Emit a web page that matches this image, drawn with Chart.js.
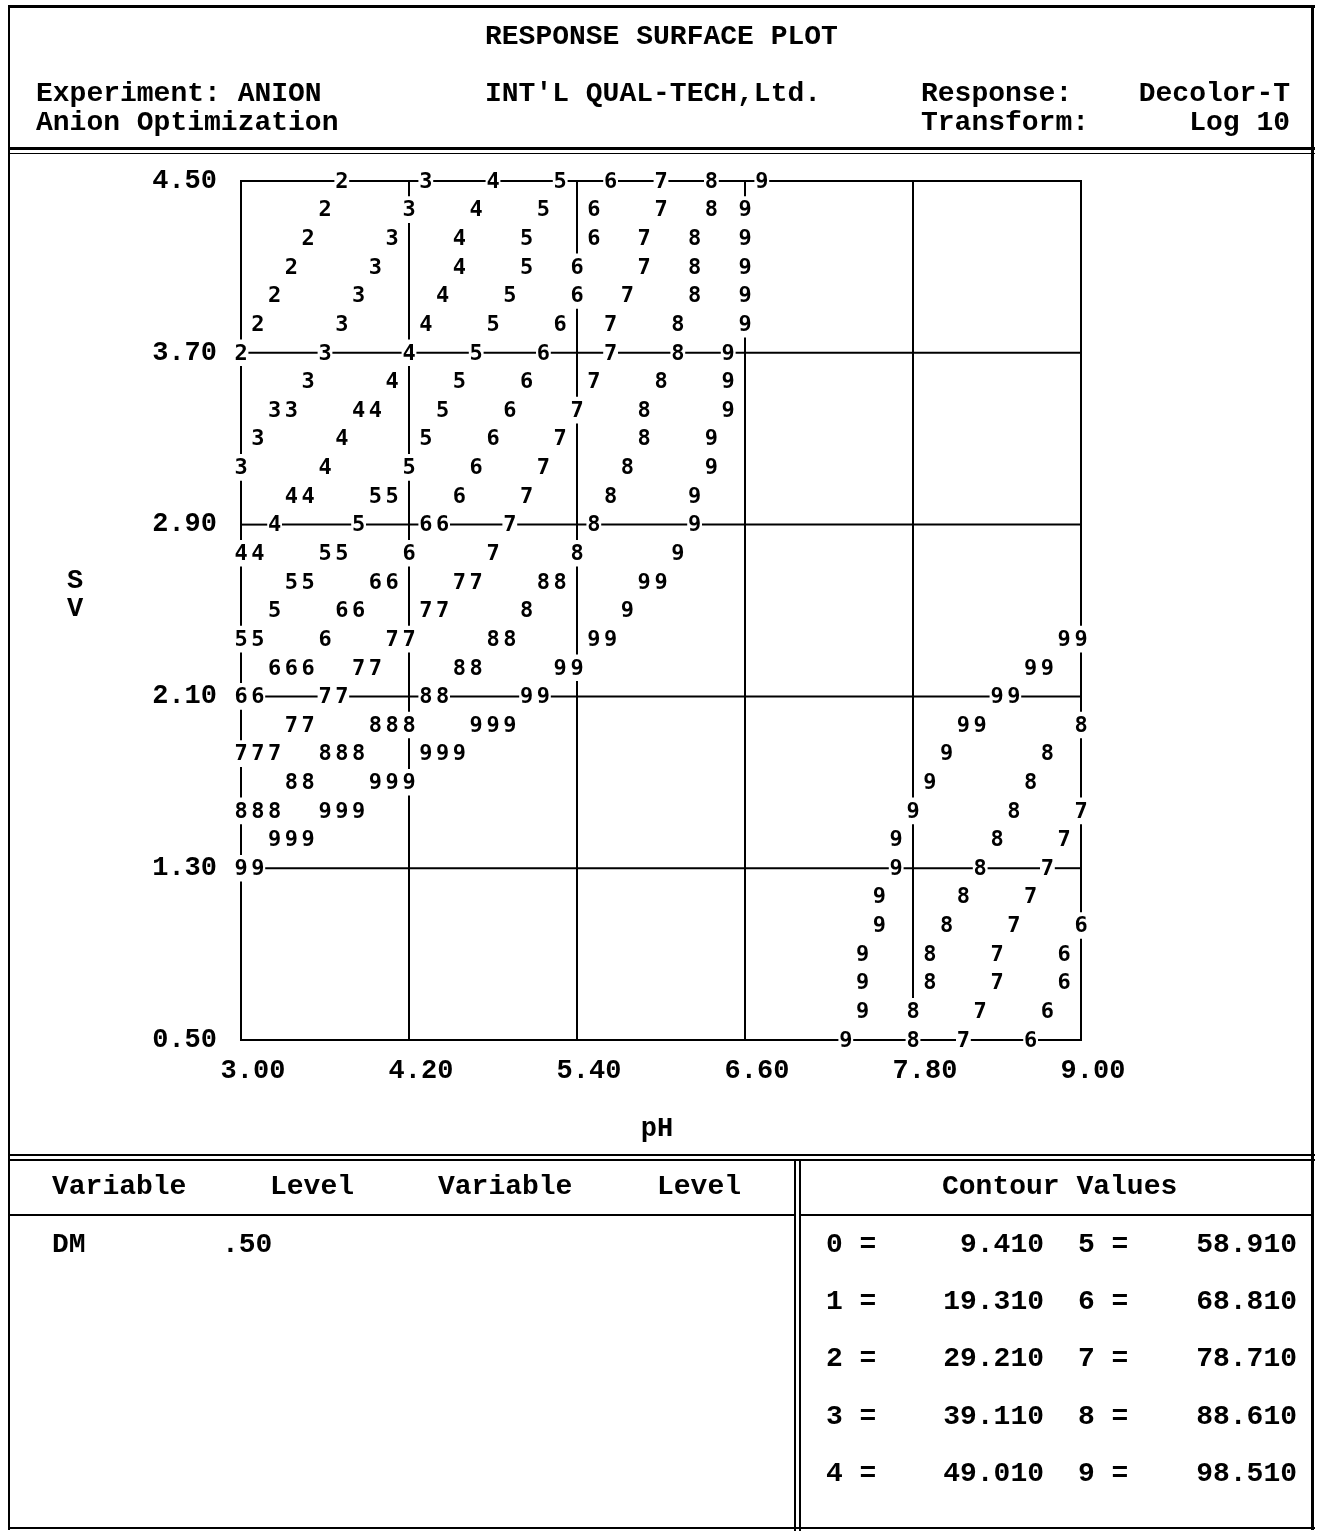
<!DOCTYPE html>
<html>
<head>
<meta charset="utf-8">
<title>Response Surface Plot</title>
<script src="https://cdn.jsdelivr.net/npm/chart.js@4.4.0/dist/chart.umd.min.js"></script>
<style>
    body { margin: 0; background: #ffffff; }
    #page {
        position: relative; width: 1319px; height: 1531px; overflow: hidden;
        font-family: 'Liberation Mono', 'DejaVu Sans Mono', monospace;
        font-weight: bold; font-size: 28px; color: #000000;
    }
    #plot { position: absolute; left: 0; top: 0; }
    .rule { position: absolute; background: #000000; }
    .t { position: absolute; white-space: pre; line-height: 28px; height: 28px; margin-top: -14px; }
    .r { text-align: right; }
</style>
</head>
<body>
<div id="page">
    <canvas id="plot" width="1319" height="1531"></canvas>

    <!-- outer frame -->
    <div class="rule" style="left:8px;top:5px;width:1307px;height:3px;"></div>
    <div class="rule" style="left:8px;top:5px;width:2px;height:1525px;"></div>
    <div class="rule" style="left:1311px;top:5px;width:3px;height:1525px;"></div>
    <div class="rule" style="left:8px;top:1527px;width:1307px;height:2px;"></div>
    <!-- header / plot / footer separators -->
    <div class="rule" style="left:8px;top:147px;width:1307px;height:3px;"></div>
    <div class="rule" style="left:8px;top:153px;width:1307px;height:1px;"></div>
    <div class="rule" style="left:8px;top:1154px;width:1307px;height:2px;"></div>
    <div class="rule" style="left:8px;top:1159px;width:1307px;height:2px;"></div>
    <div class="rule" style="left:794px;top:1159px;width:2px;height:1370px;"></div>
    <div class="rule" style="left:799px;top:1159px;width:2px;height:1370px;"></div>
    <div class="rule" style="left:8px;top:1214px;width:788px;height:2px;"></div>
    <div class="rule" style="left:799px;top:1214px;width:515px;height:2px;"></div>

    <div id="texts"></div>
</div>

<script>
// sample positions of the printed contour grid
const phGrid = [
    3.00, 3.12, 3.24, 3.36, 3.48, 3.60, 3.72, 3.84, 3.96, 4.08,
    4.20, 4.32, 4.44, 4.56, 4.68, 4.80, 4.92, 5.04, 5.16, 5.28,
    5.40, 5.52, 5.64, 5.76, 5.88, 6.00, 6.12, 6.24, 6.36, 6.48,
    6.60, 6.72, 6.84, 6.96, 7.08, 7.20, 7.32, 7.44, 7.56, 7.68,
    7.80, 7.92, 8.04, 8.16, 8.28, 8.40, 8.52, 8.64, 8.76, 8.88,
    9.00
];
const svGrid = [
    4.500, 4.367, 4.233, 4.100, 3.967, 3.833,
    3.700, 3.567, 3.433, 3.300, 3.167, 3.033,
    2.900, 2.767, 2.633, 2.500, 2.367, 2.233,
    2.100, 1.967, 1.833, 1.700, 1.567, 1.433,
    1.300, 1.167, 1.033, 0.900, 0.767, 0.633,
    0.500
];
const phTicks = [3.00, 4.20, 5.40, 6.60, 7.80, 9.00];
const svTicks = [0.50, 1.30, 2.10, 2.90, 3.70, 4.50];

// contour index printed at each sample, one row per SV value (top = 4.50)
// '.' = nothing printed, '|' only marks each 1.2 pH block
const contourRows = [
    '......2...|.3...4...5|..6..7..8.|.9........|..........|.',
    '.....2....|3...4...5.|.6...7..8.|9.........|..........|.',
    '....2....3|...4...5..|.6..7..8..|9.........|..........|.',
    '...2....3.|...4...5..|6...7..8..|9.........|..........|.',
    '..2....3..|..4...5...|6..7...8..|9.........|..........|.',
    '.2....3...|.4...5...6|..7...8...|9.........|..........|.',
    '2....3....|4...5...6.|..7...8..9|..........|..........|.',
    '....3....4|...5...6..|.7...8...9|..........|..........|.',
    '..33...44.|..5...6...|7...8....9|..........|..........|.',
    '.3....4...|.5...6...7|....8...9.|..........|..........|.',
    '3....4....|5...6...7.|...8....9.|..........|..........|.',
    '...44...55|...6...7..|..8....9..|..........|..........|.',
    '..4....5..|.66...7...|.8.....9..|..........|..........|.',
    '44...55...|6....7....|8.....9...|..........|..........|.',
    '...55...66|...77...88|....99....|..........|..........|.',
    '..5...66..|.77....8..|...9......|..........|..........|.',
    '55...6...7|7....88...|.99.......|..........|.........9|9',
    '..666..77.|...88....9|9.........|..........|.......99.|.',
    '66...77...|.88....99.|..........|..........|.....99...|.',
    '...77...88|8...999...|..........|..........|...99.....|8',
    '777..888..|.999......|..........|..........|..9.....8.|.',
    '...88...99|9.........|..........|..........|.9.....8..|.',
    '888..999..|..........|..........|..........|9.....8...|7',
    '..999.....|..........|..........|.........9|.....8...7|.',
    '99........|..........|..........|.........9|....8...7.|.',
    '..........|..........|..........|........9.|...8...7..|.',
    '..........|..........|..........|........9.|..8...7...|6',
    '..........|..........|..........|.......9..|.8...7...6|.',
    '..........|..........|..........|.......9..|.8...7...6|.',
    '..........|..........|..........|.......9..|8...7...6.|.',
    '..........|..........|..........|......9...|8..7...6..|.'
];

// response value of each contour index
const contourValues = [9.410, 19.310, 29.210, 39.110, 49.010, 58.910, 68.810, 78.710, 88.610, 98.510];
const heldNames = ['DM'];
const heldLevels = ['.50'];

const cells = contourRows.map((row) => row.replace(/\|/g, ''));

const datasets = [];
contourValues.forEach((value, level) => {
    const points = [];
    cells.forEach((row, r) => {
        [...row].forEach((ch, c) => {
            if (ch === String(level)) {
                points.push({ x: phGrid[c], y: svGrid[r] });
            }
        });
    });
    if (points.length) {
        datasets.push({ label: String(level), data: points, pointRadius: 0, pointHoverRadius: 0 });
    }
});

const nearest = (arr, v) => arr.reduce((best, a, i) => (Math.abs(a - v) < Math.abs(arr[best] - v) ? i : best), 0);

// contiguous runs of free cells along a line
function freeRuns(count, isFree) {
    const runs = [];
    let start = null;
    for (let i = 0; i <= count; i++) {
        const free = i < count && isFree(i);
        if (free && start === null) start = i;
        if (!free && start !== null) {
            runs.push([start, i - 1]);
            start = null;
        }
    }
    return runs;
}

const edge = (arr, i, dir) => {
    const j = i + dir;
    if (j < 0 || j >= arr.length) return arr[i];
    return (arr[i] + arr[j]) / 2;
};

const surfacePlot = {
    id: 'surfacePlot',
    afterDatasetsDraw(chart) {
        const { ctx, chartArea, scales: { x, y } } = chart;
        ctx.save();

        // grid rules, broken wherever a contour digit is printed
        ctx.strokeStyle = '#000000';
        ctx.lineWidth = 2;
        ctx.lineCap = 'square';
        phTicks.forEach((v) => {
            const c = nearest(phGrid, v);
            const px = x.getPixelForValue(v);
            freeRuns(svGrid.length, (r) => cells[r][c] === '.').forEach(([a, b]) => {
                ctx.beginPath();
                ctx.moveTo(px, y.getPixelForValue(edge(svGrid, a, -1)));
                ctx.lineTo(px, y.getPixelForValue(edge(svGrid, b, 1)));
                ctx.stroke();
            });
        });
        svTicks.forEach((v) => {
            const r = nearest(svGrid, v);
            const py = y.getPixelForValue(v);
            freeRuns(phGrid.length, (c) => cells[r][c] === '.').forEach(([a, b]) => {
                ctx.beginPath();
                ctx.moveTo(x.getPixelForValue(edge(phGrid, a, -1)), py);
                ctx.lineTo(x.getPixelForValue(edge(phGrid, b, 1)), py);
                ctx.stroke();
            });
        });

        // contour digits
        ctx.fillStyle = '#000000';
        ctx.font = 'bold 22px "DejaVu Sans Mono"';
        ctx.textAlign = 'center';
        ctx.textBaseline = 'middle';
        chart.data.datasets.forEach((ds) => {
            ds.data.forEach((p) => {
                ctx.fillText(ds.label, x.getPixelForValue(p.x), y.getPixelForValue(p.y) + 1);
            });
        });

        // axis titles
        ctx.font = 'bold 27px "Liberation Mono"';
        const midY = (chartArea.top + chartArea.bottom) / 2;
        ctx.fillText('S', chartArea.left - 166, midY - 29);
        ctx.fillText('V', chartArea.left - 166, midY - 1);
        ctx.fillText('pH', (chartArea.left + chartArea.right) / 2 - 4, chartArea.bottom + 89);
        ctx.restore();
    },
};

const tickFont = { family: 'Liberation Mono', size: 27, weight: 'bold' };

new Chart(document.getElementById('plot'), {
    type: 'scatter',
    data: { datasets },
    options: {
        responsive: false,
        animation: false,
        events: [],
        layout: { padding: { top: 181, right: 238, bottom: 0, left: 0 } },
        plugins: { legend: { display: false }, tooltip: { enabled: false } },
        scales: {
            x: {
                type: 'linear',
                min: 3,
                max: 9,
                afterBuildTicks: (scale) => { scale.ticks = phTicks.map((value) => ({ value })); },
                afterFit: (scale) => { scale.height = 491; },
                grid: { display: false, drawTicks: false, tickLength: 0 },
                border: { display: false },
                ticks: {
                    autoSkip: false,
                    maxRotation: 0,
                    padding: 15,
                    labelOffset: 12,
                    color: '#000000',
                    font: tickFont,
                    callback: (v) => Number(v).toFixed(2),
                },
            },
            y: {
                type: 'linear',
                min: 0.5,
                max: 4.5,
                afterBuildTicks: (scale) => { scale.ticks = svTicks.map((value) => ({ value })); },
                afterFit: (scale) => { scale.width = 241; },
                grid: { display: false, drawTicks: false, tickLength: 0 },
                border: { display: false },
                ticks: {
                    autoSkip: false,
                    padding: 24,
                    color: '#000000',
                    font: tickFont,
                    callback: (v) => Number(v).toFixed(2),
                },
            },
        },
    },
    plugins: [surfacePlot],
});

// header and footer text
const texts = [
    { s: 'RESPONSE SURFACE PLOT', x: 485, y: 37 },
    { s: 'Experiment: ANION', x: 36, y: 94 },
    { s: 'Anion Optimization', x: 36, y: 123 },
    { s: "INT'L QUAL-TECH,Ltd.", x: 485, y: 94 },
    { s: 'Response:', x: 921, y: 94 },
    { s: 'Transform:', x: 921, y: 123 },
    { s: 'Decolor-T', x: 1290, y: 94, right: true },
    { s: 'Log 10', x: 1290, y: 123, right: true },
    { s: 'Variable', x: 52, y: 1187 },
    { s: 'Level', x: 270, y: 1187 },
    { s: 'Variable', x: 438, y: 1187 },
    { s: 'Level', x: 657, y: 1187 },
    { s: 'Contour Values', x: 942, y: 1187 },
];
heldNames.forEach((name, i) => {
    texts.push({ s: name, x: 52, y: 1245 + i * 57 });
    texts.push({ s: heldLevels[i], x: 222, y: 1245 + i * 57 });
});
const rowYs = [1245, 1302, 1359, 1417, 1474];
contourValues.forEach((value, level) => {
    const col = level < 5 ? 0 : 1;
    const y = rowYs[level % 5];
    texts.push({ s: level + ' =', x: col ? 1078 : 826, y });
    texts.push({ s: value.toFixed(3), x: col ? 1297 : 1044, y, right: true });
});

const holder = document.getElementById('texts');
texts.forEach((t) => {
    const el = document.createElement('div');
    el.className = 't' + (t.right ? ' r' : '');
    el.textContent = t.s;
    el.style.top = t.y + 'px';
    if (t.right) {
        el.style.right = (1319 - t.x) + 'px';
    } else {
        el.style.left = t.x + 'px';
    }
    holder.appendChild(el);
});
</script>
</body>
</html>
